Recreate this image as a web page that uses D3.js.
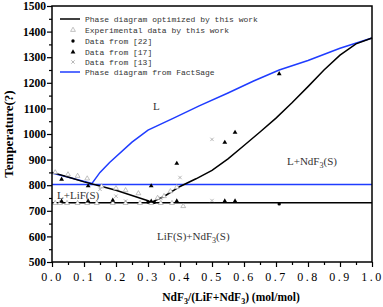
<!DOCTYPE html>
<html>
<head>
<meta charset="utf-8">
<script src="https://cdn.jsdelivr.net/npm/d3@7"></script>
<style>
  html, body { margin: 0; padding: 0; background: #fff; }
  svg { display: block; font-family: "Liberation Serif", "DejaVu Serif", serif; }
</style>
</head>
<body>
<div id="chart"></div>
<script>
/* ═══ LiF–NdF3 phase diagram ═══ */

// optimized liquidus (this work), [x, T]
const optLiF  = [[0, 850], [0.05, 832], [0.1, 813], [0.15, 797], [0.2, 780], [0.25, 760], [0.3, 739], [0.31, 733]];
const optNdF3 = [[0.31, 733], [0.35, 756], [0.4, 795], [0.45, 825], [0.5, 858], [0.55, 903], [0.6, 955], [0.65, 1008],
                 [0.7, 1062], [0.75, 1122], [0.8, 1185], [0.85, 1250], [0.9, 1308], [0.95, 1352], [1.0, 1375]];
const eutecticT = 731;

// FactSage
const fsCurve = [[0, 848], [0.125, 807], [0.15, 850], [0.18, 889], [0.25, 968], [0.3, 1015], [0.38, 1062],
                 [0.46, 1110], [0.55, 1160], [0.63, 1207], [0.71, 1250], [0.8, 1287], [0.9, 1335], [1.0, 1375]];
const fsLineT = 803;

// experimental points
const thisWork = [[0.01, 850], [0.05, 842], [0.08, 836], [0.11, 826], [0.155, 795], [0.2, 788], [0.23, 780],
                  [0.27, 768], [0.33, 750], [0.35, 757], [0.37, 776], [0.39, 792],
                  [0.01, 730], [0.025, 730], [0.047, 730], [0.08, 730], [0.11, 730], [0.14, 730], [0.19, 730],
                  [0.23, 730], [0.275, 730], [0.31, 730], [0.34, 730], [0.375, 730], [0.41, 718]];
const ref22 = [[0.3, 734], [0.32, 733], [0.71, 727]];
const ref17 = [[0.03, 823], [0.113, 797], [0.31, 797], [0.39, 885], [0.54, 967], [0.572, 1006], [0.71, 1235],
               [0.03, 737], [0.113, 738], [0.19, 741], [0.31, 737], [0.39, 738], [0.54, 738], [0.572, 738]];
const ref13 = [[0.15, 784], [0.2, 757], [0.23, 738], [0.34, 749], [0.4, 830], [0.5, 979], [0.5, 740]];

const xTicks = [0, 0.1, 0.2, 0.3, 0.4, 0.5, 0.6, 0.7, 0.8, 0.9, 1.0];
const yTicks = [500, 600, 700, 800, 900, 1000, 1100, 1200, 1300, 1400, 1500];

const legendLabels = ['Phase diagram optimized by this work', 'Experimental data by this work',
                      'Data from [22]', 'Data from [17]', 'Data from [13]', 'Phase diagram from FactSage'];

const W = 383, H = 307;
const x = d3.scaleLinear().domain([0, 1]).range([52, 372]);
const y = d3.scaleLinear().domain([500, 1500]).range([262, 6]);

const svg = d3.select('#chart').append('svg').attr('width', W).attr('height', H);

const line = d3.line().x(d => x(d[0])).y(d => y(d[1]));

// ── Curves ──
svg.append('line')
  .attr('x1', x(0)).attr('x2', x(1)).attr('y1', y(fsLineT)).attr('y2', y(fsLineT))
  .attr('stroke', '#1f3cff').attr('stroke-width', 1.5);
svg.append('path').datum(fsCurve).attr('d', line)
  .attr('fill', 'none').attr('stroke', '#1f3cff').attr('stroke-width', 1.5);

svg.append('line')
  .attr('x1', x(0)).attr('x2', x(1)).attr('y1', y(eutecticT)).attr('y2', y(eutecticT))
  .attr('stroke', '#000').attr('stroke-width', 1.5);
[optLiF, optNdF3].forEach(seg => {
  svg.append('path').datum(seg).attr('d', line)
    .attr('fill', 'none').attr('stroke', '#000').attr('stroke-width', 1.5);
});

// ── Markers ──
const tri = d3.symbol().type(d3.symbolTriangle).size(10);
const dot = d3.symbol().type(d3.symbolCircle).size(9);
const crs = d3.symbol().type(d3.symbolTimes).size(9);

function markers(data, sym, fill, stroke) {
  svg.append('g').selectAll('path').data(data).join('path')
    .attr('d', sym)
    .attr('transform', d => `translate(${x(d[0])},${y(d[1])})`)
    .attr('fill', fill).attr('stroke', stroke).attr('stroke-width', 0.6);
}
markers(thisWork, tri, '#fff', '#999');
markers(ref22, dot, '#000', 'none');
markers(ref17, tri, '#000', 'none');
markers(ref13, crs, 'none', '#888');

// ── Frame ──
svg.append('rect')
  .attr('x', x(0)).attr('y', y(1500)).attr('width', x(1) - x(0)).attr('height', y(500) - y(1500))
  .attr('fill', 'none').attr('stroke', '#000').attr('stroke-width', 1.5);

// ── Axes ──
const xAxis = svg.append('g').attr('transform', `translate(0,${y(500)})`)
  .call(d3.axisBottom(x).tickValues(xTicks).tickSize(5).tickFormat(d3.format('.1f')));
xAxis.append('g').call(d3.axisBottom(x).tickValues(d3.range(0.05, 1, 0.1)).tickSize(3).tickFormat(''));
xAxis.selectAll('.domain').remove();
xAxis.selectAll('line').attr('stroke-width', 1.2);
xAxis.selectAll('text')
  .style('font-family', '"Liberation Serif", serif').style('font-size', '12px')
  .attr('letter-spacing', 2.5).attr('fill', '#000').attr('y', 10);

const yAxis = svg.append('g').attr('transform', `translate(${x(0)},0)`)
  .call(d3.axisLeft(y).tickValues(yTicks).tickSize(5).tickFormat(d3.format('d')));
yAxis.append('g').call(d3.axisLeft(y).tickValues(d3.range(550, 1500, 100)).tickSize(3).tickFormat(''));
yAxis.selectAll('.domain').remove();
yAxis.selectAll('line').attr('stroke-width', 1.2);
yAxis.selectAll('text')
  .style('font-family', '"Liberation Serif", serif').style('font-size', '11.5px')
  .style('font-weight', 'bold').attr('fill', '#000').attr('x', -6);

// axis titles
const xt = svg.append('text').attr('x', 231).attr('y', 301).attr('text-anchor', 'middle')
  .style('font-size', '11.5px').style('font-weight', 'bold');
xt.append('tspan').text('NdF');
xt.append('tspan').text('3').style('font-size', '8px').attr('dy', 3);
xt.append('tspan').text('/(LiF+NdF').attr('dy', -3);
xt.append('tspan').text('3').style('font-size', '8px').attr('dy', 3);
xt.append('tspan').text(') (mol/mol)').attr('dy', -3);

svg.append('text').attr('transform', 'translate(13,134) rotate(-90)')
  .attr('text-anchor', 'middle').style('font-size', '13px').style('font-weight', 'bold')
  .text('Temperature(?)');

// ── Legend ──
const legY = [19, 30, 41, 52, 62, 72];
const leg = svg.append('g');
leg.append('line').attr('x1', 60).attr('x2', 80).attr('y1', legY[0]).attr('y2', legY[0])
  .attr('stroke', '#000').attr('stroke-width', 1.5);
leg.append('path').attr('d', tri).attr('transform', `translate(73,${legY[1]})`)
  .attr('fill', '#fff').attr('stroke', '#999').attr('stroke-width', 0.6);
leg.append('path').attr('d', dot).attr('transform', `translate(73,${legY[2]})`).attr('fill', '#000');
leg.append('path').attr('d', tri).attr('transform', `translate(73,${legY[3]})`).attr('fill', '#000');
leg.append('path').attr('d', crs).attr('transform', `translate(73,${legY[4]})`)
  .attr('fill', 'none').attr('stroke', '#888').attr('stroke-width', 0.6);
leg.append('line').attr('x1', 60).attr('x2', 80).attr('y1', legY[5]).attr('y2', legY[5])
  .attr('stroke', '#1f3cff').attr('stroke-width', 1.5);
leg.selectAll('text').data(legendLabels).join('text')
  .attr('x', 85).attr('y', (d, i) => legY[i] + 3)
  .style('font-family', '"Liberation Mono", "DejaVu Sans Mono", monospace')
  .style('font-size', '8px').attr('fill', '#333')
  .text(d => d);

// ── Region labels ──
function region(px, py, parts) {
  const t = svg.append('text').attr('x', px).attr('y', py).style('font-size', '11px').attr('fill', '#333');
  parts.forEach(p => {
    if (p.sub) t.append('tspan').text(p.sub).style('font-size', '8px').attr('dy', 3);
    else t.append('tspan').text(p.t).attr('dy', p.back ? -3 : 0);
  });
}
region(153, 110, [{ t: 'L' }]);
region(287, 165, [{ t: 'L+NdF' }, { sub: '3' }, { t: '(S)', back: true }]);
region(57, 199, [{ t: 'L+LiF(S)' }]);
region(157, 240, [{ t: 'LiF(S)+NdF' }, { sub: '3' }, { t: '(S)', back: true }]);
</script>
</body>
</html>
